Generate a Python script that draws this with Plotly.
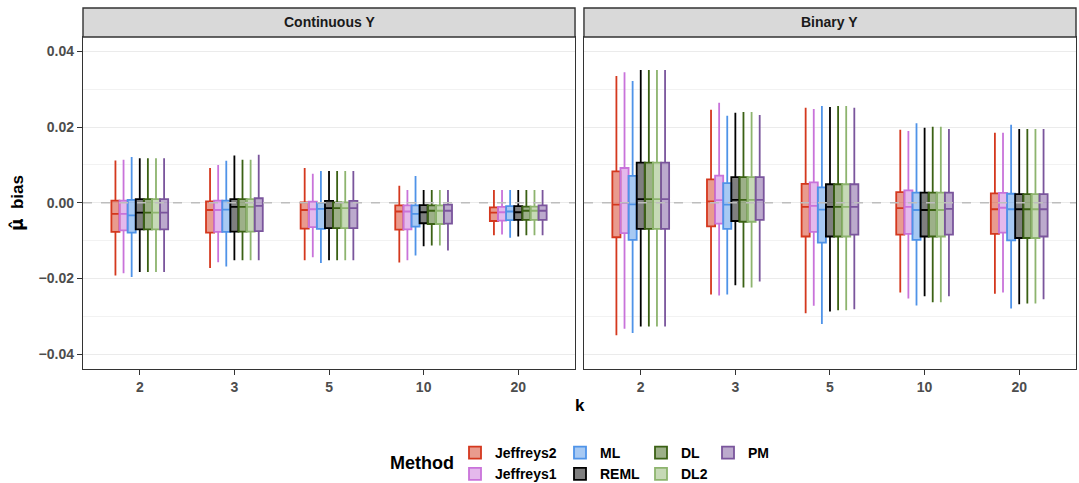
import plotly.graph_objects as go

k_labels = ["2", "3", "5", "10", "20"]
methods = ["Jeffreys2", "Jeffreys1", "ML", "REML", "DL", "DL2", "PM"]
colors = ["#D4381E", "#C973DA", "#4F93E8", "#000000", "#3B6114", "#8DB46E", "#7A559C"]

# Continuous Y: lower whisker, q1, median, q3, upper whisker (per k)
cont_lo = {
    "Jeffreys2": [-0.0192, -0.0172, -0.0152, -0.0158, -0.0086],
    "Jeffreys1": [-0.0186, -0.0157, -0.0144, -0.0152, -0.0084],
    "ML":        [-0.0196, -0.0168, -0.0159, -0.0139, -0.0092],
    "REML":      [-0.0183, -0.0152, -0.0152, -0.0115, -0.0089],
    "DL":        [-0.0183, -0.0152, -0.0152, -0.0113, -0.0086],
    "DL2":       [-0.0183, -0.0152, -0.0152, -0.0113, -0.0086],
    "PM":        [-0.0183, -0.0152, -0.0152, -0.0126, -0.0086],
}
cont_q1 = {
    "Jeffreys2": [-0.0077, -0.0079, -0.0068, -0.0071, -0.0048],
    "Jeffreys1": [-0.0073, -0.0077, -0.0064, -0.0070, -0.0047],
    "ML":        [-0.0079, -0.0077, -0.0069, -0.0063, -0.0046],
    "REML":      [-0.0070, -0.0076, -0.0067, -0.0054, -0.0045],
    "DL":        [-0.0070, -0.0076, -0.0067, -0.0056, -0.0045],
    "DL2":       [-0.0070, -0.0076, -0.0067, -0.0056, -0.0045],
    "PM":        [-0.0070, -0.0075, -0.0067, -0.0055, -0.0045],
}
cont_med = {
    "Jeffreys2": [-0.0029, -0.0019, -0.0019, -0.0023, -0.0026],
    "Jeffreys1": [-0.0029, -0.0019, -0.0017, -0.0023, -0.0025],
    "ML":        [-0.0033, -0.0018, -0.0016, -0.0029, -0.0023],
    "REML":      [-0.0026, -0.0011, -0.0014, -0.0025, -0.0025],
    "DL":        [-0.0026, -0.0011, -0.0014, -0.0021, -0.0021],
    "DL2":       [-0.0026, -0.0011, -0.0014, -0.0021, -0.0021],
    "PM":        [-0.0026, -0.0008, -0.0014, -0.0021, -0.0021],
}
cont_q3 = {
    "Jeffreys2": [0.0006, 0.0004, 0.0001, -0.0007, -0.0012],
    "Jeffreys1": [0.0006, 0.0006, 0.0003, -0.0007, -0.0011],
    "ML":        [0.0008, 0.0006, 0.0000, -0.0007, -0.0009],
    "REML":      [0.0010, 0.0010, 0.0005, -0.0006, -0.0009],
    "DL":        [0.0010, 0.0010, 0.0001, -0.0007, -0.0010],
    "DL2":       [0.0010, 0.0010, 0.0001, -0.0007, -0.0010],
    "PM":        [0.0010, 0.0012, 0.0005, -0.0005, -0.0007],
}
cont_hi = {
    "Jeffreys2": [0.0112, 0.0092, 0.0092, 0.0045, 0.0034],
    "Jeffreys1": [0.0114, 0.0100, 0.0077, 0.0034, 0.0034],
    "ML":        [0.0121, 0.0111, 0.0084, 0.0071, 0.0034],
    "REML":      [0.0118, 0.0125, 0.0084, 0.0034, 0.0034],
    "DL":        [0.0118, 0.0114, 0.0084, 0.0034, 0.0034],
    "DL2":       [0.0118, 0.0114, 0.0084, 0.0034, 0.0034],
    "PM":        [0.0118, 0.0127, 0.0084, 0.0034, 0.0034],
}

# Binary Y
bin_lo = {
    "Jeffreys2": [-0.0350, -0.0242, -0.0292, -0.0237, -0.0240],
    "Jeffreys1": [-0.0333, -0.0245, -0.0272, -0.0253, -0.0237],
    "ML":        [-0.0344, -0.0242, -0.0320, -0.0271, -0.0279],
    "REML":      [-0.0327, -0.0218, -0.0287, -0.0247, -0.0268],
    "DL":        [-0.0327, -0.0224, -0.0284, -0.0263, -0.0266],
    "DL2":       [-0.0327, -0.0224, -0.0284, -0.0263, -0.0266],
    "PM":        [-0.0327, -0.0208, -0.0281, -0.0247, -0.0255],
}
bin_q1 = {
    "Jeffreys2": [-0.0091, -0.0062, -0.0089, -0.0084, -0.0082],
    "Jeffreys1": [-0.0080, -0.0055, -0.0077, -0.0082, -0.0079],
    "ML":        [-0.0098, -0.0069, -0.0105, -0.0098, -0.0099],
    "REML":      [-0.0069, -0.0048, -0.0089, -0.0089, -0.0093],
    "DL":        [-0.0069, -0.0050, -0.0089, -0.0089, -0.0093],
    "DL2":       [-0.0069, -0.0050, -0.0089, -0.0089, -0.0093],
    "PM":        [-0.0069, -0.0045, -0.0084, -0.0084, -0.0089],
}
bin_med = {
    "Jeffreys2": [-0.0005, 0.0004, -0.0011, -0.0014, -0.0017],
    "Jeffreys1": [-0.0001, 0.0007, -0.0008, -0.0011, -0.0013],
    "ML":        [-0.0004, -0.0005, -0.0018, -0.0019, -0.0017],
    "REML":      [0.0010, 0.0008, -0.0011, -0.0019, -0.0017],
    "DL":        [0.0010, 0.0008, -0.0011, -0.0019, -0.0017],
    "DL2":       [0.0010, 0.0008, -0.0011, -0.0019, -0.0017],
    "PM":        [0.0010, 0.0008, -0.0011, -0.0016, -0.0017],
}
bin_q3 = {
    "Jeffreys2": [0.0083, 0.0062, 0.0050, 0.0028, 0.0025],
    "Jeffreys1": [0.0092, 0.0072, 0.0054, 0.0033, 0.0026],
    "ML":        [0.0071, 0.0052, 0.0041, 0.0027, 0.0024],
    "REML":      [0.0106, 0.0068, 0.0049, 0.0027, 0.0023],
    "DL":        [0.0106, 0.0068, 0.0049, 0.0027, 0.0023],
    "DL2":       [0.0106, 0.0068, 0.0049, 0.0027, 0.0023],
    "PM":        [0.0106, 0.0068, 0.0049, 0.0027, 0.0023],
}
bin_hi = {
    "Jeffreys2": [0.0335, 0.0246, 0.0251, 0.0193, 0.0185],
    "Jeffreys1": [0.0345, 0.0264, 0.0248, 0.0190, 0.0185],
    "ML":        [0.0322, 0.0230, 0.0256, 0.0210, 0.0206],
    "REML":      [0.0351, 0.0238, 0.0253, 0.0198, 0.0195],
    "DL":        [0.0351, 0.0240, 0.0256, 0.0201, 0.0195],
    "DL2":       [0.0351, 0.0240, 0.0256, 0.0201, 0.0195],
    "PM":        [0.0351, 0.0232, 0.0251, 0.0195, 0.0195],
}

y_ticks = [-0.04, -0.02, 0.0, 0.02, 0.04]
y_tick_text = ["\u22120.04", "\u22120.02", "0.00", "0.02", "0.04"]
facet_titles = ["Continuous Y", "Binary Y"]

legend_ids = {"Jeffreys2": "legend", "Jeffreys1": "legend",
              "ML": "legend2", "REML": "legend2",
              "DL": "legend3", "DL2": "legend3", "PM": "legend4"}


def rgba(hexc, a):
    h = hexc.lstrip("#")
    r, g, b = int(h[0:2], 16), int(h[2:4], 16), int(h[4:6], 16)
    return f"rgba({r},{g},{b},{a})"


fig = go.Figure()
facets = [(cont_lo, cont_q1, cont_med, cont_q3, cont_hi, "x", "y"),
          (bin_lo, bin_q1, bin_med, bin_q3, bin_hi, "x2", "y2")]
for fi, (lo, q1, med, q3, hi, xa, ya) in enumerate(facets):
    for m, c in zip(methods, colors):
        fig.add_trace(go.Box(
            x=k_labels, lowerfence=lo[m], q1=q1[m], median=med[m], q3=q3[m],
            upperfence=hi[m], name=m, legendgroup=m, showlegend=(fi == 0),
            legend=legend_ids[m], offsetgroup=m, alignmentgroup=f"facet{fi}",
            line=dict(color=c, width=1.8), fillcolor=rgba(c, 0.5),
            whiskerwidth=0, boxpoints=False, xaxis=xa, yaxis=ya,
        ))

FONT = "Liberation Sans, Arial"
axis_font = dict(family=FONT, size=14, color="#4D4D4D", weight="bold")
d1 = [0.0, 0.4955]
d2 = [0.5045, 1.0]
common_x = dict(type="category", categoryorder="array", categoryarray=k_labels,
                range=[-0.6, 4.6], showgrid=False, zeroline=False,
                showline=True, linecolor="#333333", linewidth=1.4, mirror=True,
                ticks="outside", ticklen=5, tickcolor="#333333", tickwidth=1.2,
                tickfont=axis_font)
common_y = dict(range=[-0.0439, 0.0438], tickvals=y_ticks, ticktext=y_tick_text,
                showgrid=True, gridcolor="#EBEBEB", gridwidth=1.2, zeroline=False,
                minor=dict(dtick=0.01, tick0=0.0, showgrid=True, gridcolor="#F2F2F2", gridwidth=1),
                showline=True, linecolor="#333333", linewidth=1.4, mirror=True)

fig.update_layout(
    xaxis=dict(domain=d1, anchor="y", **common_x),
    xaxis2=dict(domain=d2, anchor="y2", **common_x),
    yaxis=dict(anchor="x", ticks="outside", ticklen=5, tickcolor="#333333", tickwidth=1.2,
               tickfont=axis_font,
               title=dict(text="<span style='font-family:DejaVu Sans'>\u03bc\u0302</span>  bias",
                          standoff=10,
                          font=dict(family=FONT, size=17, color="#000000", weight="bold")),
               **common_y),
    yaxis2=dict(anchor="x2", matches="y", showticklabels=False, ticks="", **common_y),
    boxmode="group", boxgap=0.4, boxgroupgap=0.0,
    width=1079, height=483,
    margin=dict(l=83, r=3, t=37, b=114, autoexpand=False),
    paper_bgcolor="white", plot_bgcolor="white",
    font=dict(family=FONT, color="#000000"),
)

# axis title "k"
fig.add_annotation(text="<b>k</b>", x=0.5, y=(369 - 405) / 332, xref="paper", yref="paper",
                   showarrow=False, yanchor="middle", xanchor="center",
                   font=dict(family=FONT, size=17, color="#000000"))

# facet strips
strip_h = 29 / 332
for (dx, title) in zip([d1, d2], facet_titles):
    fig.add_shape(type="rect", xref="paper", yref="paper", x0=dx[0], x1=dx[1],
                  y0=1.0, y1=1.0 + strip_h, fillcolor="#D9D9D9",
                  line=dict(color="#333333", width=1.4), layer="above")
    fig.add_annotation(text=f"<b>{title}</b>", xref="paper", yref="paper",
                       x=(dx[0] + dx[1]) / 2, y=1.0 + strip_h / 2, showarrow=False,
                       xanchor="center", yanchor="middle",
                       font=dict(family=FONT, size=14, color="#1A1A1A"))

# dashed zero lines
for xr, yr in [("x domain", "y"), ("x2 domain", "y2")]:
    fig.add_shape(type="line", xref=xr, yref=yr, x0=0, x1=1, y0=0, y1=0,
                  line=dict(color="#BDBDBD", width=1.5, dash="dash"), layer="above")

# legends (one per column)
leg_font = dict(family=FONT, size=14, color="#000000", weight="bold")
leg_common = dict(orientation="v", yanchor="top", xanchor="left", font=leg_font,
                  bgcolor="rgba(0,0,0,0)", tracegroupgap=0, itemwidth=30)
leg_y = (369 - 437) / 332
leg_x_px = [455, 560, 641, 708]
for lid, px in zip(["legend", "legend2", "legend3", "legend4"], leg_x_px):
    fig.update_layout({lid: dict(x=(px - 83) / 993, y=leg_y, **leg_common)})

fig.add_annotation(text="<b>Method</b>", xref="paper", yref="paper",
                   x=(422 - 83) / 993, y=(369 - 463) / 332, showarrow=False,
                   xanchor="center", yanchor="middle",
                   font=dict(family=FONT, size=18, color="#000000"))

fig.write_html("out.html")
